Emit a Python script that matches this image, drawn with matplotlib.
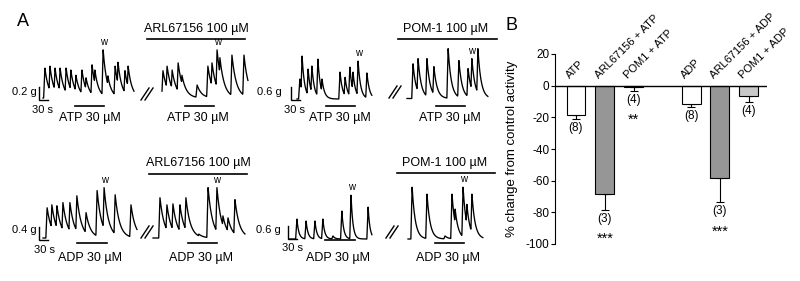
import numpy as np
import matplotlib
matplotlib.use("Agg")
import matplotlib.pyplot as plt
from matplotlib.lines import Line2D

plt.rcParams['font.family'] = ['Liberation Sans', 'DejaVu Sans']
plt.rcParams['axes.unicode_minus'] = False

W, H = 800, 281
fig = plt.figure(figsize=(8, 2.81), dpi=100)


def fx(px):
    return px / W


def fy(py):
    return 1 - py / H


# ---------------- Panel B data ----------------
groups = ["ATP", "ARL67156 + ATP", "POM1 + ATP", "ADP", "ARL67156 + ADP", "POM1 + ADP"]
positions = [0, 1, 2, 4, 5, 6]
means = [-18.5, -68.4, -1.0, -11.4, -58.4, -6.6]
sems = [2.5, 10.0, 2.3, 2.0, 15.2, 3.5]
n_labels = ["(8)", "(3)", "(4)", "(8)", "(3)", "(4)"]
stars = ["", "***", "**", "", "***", ""]
bar_colors = ["white", "#969696", "white", "white", "#969696", "#c8c8c8"]
yticks = [20, 0, -20, -40, -60, -80, -100]

# ---------------- Panel A data (contraction peaks: time s, amplitude g) ----------------
r1t1_t = [6, 22, 38, 54, 73, 88, 104, 123, 136, 155, 164, 190, 205, 228, 237, 259, 269]
r1t1_a = [0.46, 0.49, 0.46, 0.46, 0.46, 0.43, 0.35, 0.43, 0.31, 0.51, 0.43, 0.74, 0.34, 0.49, 0.55, 0.42, 0.49]
r1t2_t = [3, 16, 32, 51, 63, 111, 145, 158, 174, 183, 221, 259]
r1t2_a = [0.42, 0.49, 0.43, 0.54, 0.35, 0.20, 0.49, 0.54, 0.74, 0.62, 0.66, 0.66]
r1t3_t = [9, 16, 35, 47, 66, 79, 136, 152, 167, 177, 193, 221]
r1t3_a = [0.92, 1.98, 1.38, 1.52, 1.84, 0.92, 1.24, 1.00, 1.47, 1.24, 1.75, 1.20]
r1t4_t = [19, 35, 63, 85, 130, 164, 193, 205, 224]
r1t4_a = [1.60, 1.84, 1.84, 1.47, 2.30, 1.75, 1.38, 1.84, 2.30]
r2t1_t = [13, 28, 44, 63, 85, 107, 136, 171, 193, 228, 278]
r2t1_a = [0.93, 1.02, 0.99, 1.09, 1.09, 1.30, 0.78, 1.46, 1.55, 1.33, 1.02]
r2t2_t = [22, 44, 63, 85, 104, 145, 174, 202, 221, 237, 259]
r2t2_a = [1.24, 1.02, 1.05, 1.02, 1.24, 0.12, 1.55, 1.55, 0.68, 0.62, 1.18]
r2t3_t = [25, 54, 82, 107, 139, 167, 196, 250]
r2t3_a = [0.92, 0.83, 0.83, 0.92, 0.14, 1.29, 2.02, 1.47]
r2t4_t = [13, 60, 117, 139, 149, 174, 186, 202]
r2t4_a = [2.39, 2.07, 0.14, 2.07, 1.38, 2.39, 1.60, 2.07]

trace_times = [r1t1_t, r1t2_t, r1t3_t, r1t4_t, r2t1_t, r2t2_t, r2t3_t, r2t4_t]
trace_amps = [r1t1_a, r1t2_a, r1t3_a, r1t4_a, r2t1_a, r2t2_a, r2t3_a, r2t4_a]
decay_tau = [12, 14, 8, 10, 14, 14, 6, 10]
w_index = [11, 8, 10, 7, 8, 7, 6, 5]
drug_on = [101, 73, 92, 92, 107, 111, 114, 85]
drug_off = [193, 164, 183, 183, 202, 202, 209, 177]
scale_g = [0.2, None, 0.6, None, 0.4, None, 0.6, None]
scale_s = 30

# layout of traces in figure pixels
SPX = 3.16  # s per pixel
layout = [
    dict(x0=43, x1=134, base=98, g13=0.2, bar=106, L=(39, 100)),
    dict(x0=162, x1=248, base=98, g13=0.2, bar=106, L=None),
    dict(x0=297, x1=372, base=99, g13=0.6, bar=106, L=(291, 100)),
    dict(x0=407, x1=488, base=98.5, g13=0.6, bar=106, L=None),
    dict(x0=43, x1=137, base=238, g13=0.4, bar=243, L=(39, 240)),
    dict(x0=153, x1=245, base=238, g13=0.4, bar=243, L=None),
    dict(x0=289, x1=372, base=239, g13=0.6, bar=239.5, L=(288, 239)),
    dict(x0=408, x1=483, base=239, g13=0.6, bar=243, L=None),
]


def waveform(t, times, amps, tau, rise=4.0):
    y = np.zeros_like(t)
    for t0, a in zip(times, amps):
        r = np.where((t >= t0 - rise) & (t < t0), a * (t - (t0 - rise)) / rise, 0.0)
        d = np.where(t >= t0, a * np.exp(-(t - t0) / tau), 0.0)
        y = np.maximum(y, r + d)
    return y


for i, lay in enumerate(layout):
    gpp = lay['g13'] / 13.0
    ax_l, ax_r = lay['x0'] - 22, lay['x1'] + 4
    ax_b, ax_t = lay['base'] + 14, lay['base'] - 62
    ax = fig.add_axes([fx(ax_l), fy(ax_b), fx(ax_r) - fx(ax_l), fy(ax_t) - fy(ax_b)])
    ax.set_xlim((ax_l - lay['x0']) * SPX, (ax_r - lay['x0']) * SPX)
    ax.set_ylim(-(ax_b - lay['base']) * gpp, (lay['base'] - ax_t) * gpp)
    ax.axis('off')
    tend = (lay['x1'] - lay['x0']) * SPX
    t = np.arange(0, tend, 0.5)
    y = waveform(t, trace_times[i], trace_amps[i], decay_tau[i])
    ax.plot(t, y, color='black', lw=0.95)
    tw = trace_times[i][w_index[i]]
    aw = trace_amps[i][w_index[i]]
    ax.text(tw, aw + 3 * gpp, "w", ha='center', va='bottom', fontsize=7)
    yb = -(lay['bar'] - lay['base']) * gpp
    ax.plot([drug_on[i], drug_off[i]], [yb, yb], color='black', lw=1.2, clip_on=False)
    if scale_g[i] is not None:
        cx = (lay['L'][0] - lay['x0']) * SPX
        cy = -(lay['L'][1] - lay['base']) * gpp
        ax.plot([cx, cx, cx + scale_s], [cy + scale_g[i], cy, cy], color='black',
                lw=1.0, clip_on=False, solid_joinstyle='miter')

# ---- Panel A annotations ----
fs = 9
txt = [
    ("0.2 g", 37, 92, 'right', 8), ("30 s", 43, 110, 'center', 8),
    ("ATP 30 µM", 90, 118, 'center', fs),
    ("ARL67156 100 µM", 196, 29, 'center', fs), ("ATP 30 µM", 198, 118, 'center', fs),
    ("0.6 g", 282, 92, 'right', 8), ("30 s", 295, 110, 'center', 8),
    ("ATP 30 µM", 340, 118, 'center', fs),
    ("POM-1 100 µM", 446, 29, 'center', fs), ("ATP 30 µM", 450, 118, 'center', fs),
    ("0.4 g", 37, 230, 'right', 8), ("30 s", 45, 250, 'center', 8),
    ("ADP 30 µM", 90, 258, 'center', fs),
    ("ARL67156 100 µM", 198, 163, 'center', fs), ("ADP 30 µM", 201, 258, 'center', fs),
    ("0.6 g", 281, 230, 'right', 8), ("30 s", 292, 248, 'center', 8),
    ("ADP 30 µM", 338, 258, 'center', fs),
    ("POM-1 100 µM", 445, 163, 'center', fs), ("ADP 30 µM", 448, 258, 'center', fs),
]
for s, x, y, ha, f in txt:
    fig.text(fx(x), fy(y), s, ha=ha, va='center', fontsize=f)

for (xa, xb, yy) in [(147, 245, 39), (398, 497, 39), (149, 247, 174), (397, 495, 173)]:
    fig.add_artist(Line2D([fx(xa), fx(xb)], [fy(yy), fy(yy)], color='black', lw=1.2))

for (cx, cy) in [(147, 94), (395, 92), (147, 232), (392, 232)]:
    for dx in (-2, 2):
        fig.add_artist(Line2D([fx(cx + dx - 4), fx(cx + dx + 4)], [fy(cy + 6), fy(cy - 6)],
                              color='black', lw=1.0))

fig.text(fx(17), fy(22), "A", fontsize=13, ha='left', va='center')
fig.text(fx(506), fy(25), "B", fontsize=13, ha='left', va='center')

# ---------------- Panel B ----------------
axb = fig.add_axes([fx(555), fy(244), fx(767) - fx(555), fy(54) - fy(244)])
axb.bar(positions, means, width=0.66, color=bar_colors, edgecolor='black', linewidth=0.8, zorder=2)
axb.errorbar(positions, means, yerr=[sems, [0] * len(sems)], fmt='none', ecolor='black',
             elinewidth=0.8, capsize=2.6, capthick=0.8, zorder=1)
axb.axhline(0, color='black', lw=1.0, zorder=3)
axb.set_xlim(-0.73, 6.64)
axb.set_ylim(-100, 20)
for sp in ('top', 'right', 'bottom'):
    axb.spines[sp].set_visible(False)
axb.spines['left'].set_linewidth(0.8)
axb.set_xticks([])
axb.set_yticks(yticks)
axb.tick_params(axis='y', direction='out', length=3, width=0.8, labelsize=8.5, pad=1)
axb.set_ylabel("% change from control activity", fontsize=9.5)
axb.yaxis.set_label_coords((518 - 555) / 212, 0.5)

for p, g in zip(positions, groups):
    axb.text(p - 0.2, 4.5, g, rotation=45, rotation_mode='anchor', ha='left', va='baseline',
             fontsize=8)
for p, m, e, n, s in zip(positions, means, sems, n_labels, stars):
    cap = m - e
    axb.text(p, cap - 2.0, n, ha='center', va='top', fontsize=8.5)
    if s:
        axb.text(p, cap - 21, s, ha='center', va='baseline', fontsize=10.5)

fig.savefig("out.png", dpi=100)
